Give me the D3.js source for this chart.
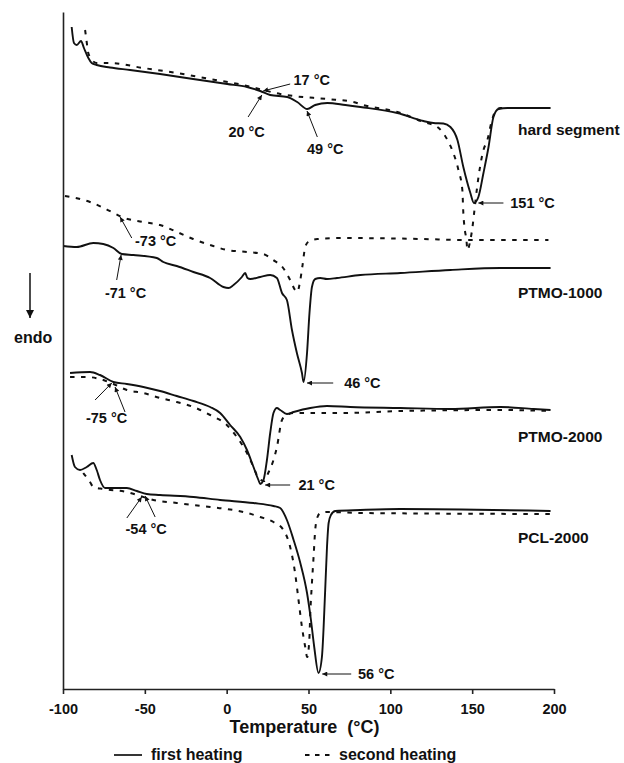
<!DOCTYPE html>
<html>
<head>
<meta charset="utf-8">
<script src="https://cdn.jsdelivr.net/npm/d3@7"></script>
<style>
  body { margin: 0; background: #fff; }
  svg { display: block; font-family: "Liberation Sans", Arial, sans-serif; font-weight: bold; }
</style>
</head>
<body>
<div id="wrapper"></div>
<script>
// Data: [temperature (°C), heat flow (a.u.)]
const xTicks = [-100, -50, 0, 50, 100, 150, 200];

const seriesNames = ["hard segment", "PTMO-1000", "PTMO-2000", "PCL-2000"];
const seriesLabelV = [559, 396, 252, 151];
const seriesLabelT = 178;

const hardFirst = [[-94.7,662],[-93.3,646],[-91.6,644],[-89.0,648],[-87.2,641],[-84.5,631],[-82.5,626],[-79.4,624],[-71.3,621.5],[-59,619],[-40.7,615],[-20.5,610],[0.3,605],[12.5,602],[20.5,598],[26.6,594],[37,592],[43.1,587],[49.2,580],[54.1,584],[61.5,586],[72.5,584],[81.7,582],[104.3,576],[120.2,568],[126.3,566],[132.4,565.5],[136.7,562],[141,549],[144.6,522],[148.9,496],[151.1,486],[153.8,492],[156.9,516],[160,542],[163,572],[166.1,580],[171.6,581],[197.9,581]];
const hardSecond = [[-86.5,659],[-85.6,648],[-84.7,637],[-83.5,632],[-79.4,626],[-71.3,626],[-51.1,621],[-30.3,616],[-10.1,610],[4.0,606],[12.5,603],[22.3,599],[32.7,595],[40.7,593],[61.5,590],[77.4,587],[83.5,584],[104.3,577],[120.2,567],[128.7,562],[134.9,549],[138.5,536],[141.6,519],[144.0,499],[144.6,476],[145.3,462],[146.5,449],[147.1,439],[148.9,449],[150.2,462],[151.4,479],[153.2,504],[155.0,524],[156.9,539],[159.3,549],[161.8,567],[164.2,578],[167.3,581],[197.9,581]];
const ptmo1000First = [[-99.8,443],[-91.6,442],[-81.5,446],[-75.4,445],[-69.2,441],[-64.1,435],[-57.0,434],[-42.7,431],[-38.7,427],[-30.5,423],[-20.3,417],[-10.1,411],[-2.0,402],[1.1,401],[4.2,404],[9.3,412],[11.3,416],[12.7,411],[14.4,410],[20.5,412],[26.6,414],[30.7,411],[33.8,396],[36.8,389],[39.9,359],[42.9,336],[46.0,316],[47.0,307],[49.1,336],[50.6,376],[52.1,402],[54.1,410],[57.2,411],[61.3,410],[67.4,411],[81.7,414],[106.1,416],[136.7,419],[167.3,421],[197.9,421]];
const ptmo1000Second = [[-98.8,493],[-83.5,487],[-70.2,477],[-64.1,472],[-51.1,467],[-40.7,464],[-30.3,457],[-20.5,450],[-10.1,444],[0.3,439],[12.5,437],[22.3,435],[28.4,429],[34.5,421],[38.8,409],[41.8,399],[43.1,397],[45.0,409],[46.2,422],[48.0,442],[49.8,447],[55.4,450],[71.3,451],[120,450],[145,449],[196.6,449]];
const ptmo2000First = [[-95.7,316],[-83.5,317],[-77.4,314],[-69.2,307],[-61.0,305],[-50.9,302],[-40.7,298],[-30.5,293],[-20.3,288],[-10.1,282],[-4.0,276],[2.1,264],[8.3,252],[12.4,239],[16.4,222],[19.4,209],[20.5,205],[22.5,209],[24.6,229],[26.6,256],[28.6,276],[30.7,281],[32.7,279],[36.8,275],[40.9,277],[51.1,281],[61.3,283],[75.5,282],[106.1,281],[136.7,280],[167.3,282],[187.5,280],[197.9,279]];
const ptmo2000Second = [[-95.7,312],[-85.5,312],[-77.4,310],[-69.2,305],[-61.0,299],[-50.9,296],[-40.7,291],[-30.5,287],[-20.3,282],[-10.1,274],[0.1,264],[6.2,252],[12.4,236],[16.4,222],[19.4,211],[22.9,208],[25.4,216],[28.6,229],[30.7,242],[33.8,269],[36.8,274],[40.9,276],[51.1,276],[71.4,276],[106.1,278],[167.3,279],[197.9,278]];
const pclFirst = [[-94.7,234],[-92.7,222],[-89.6,219],[-85.5,222],[-81.5,226],[-79.4,219],[-77.4,209],[-74.3,201],[-61.0,201],[-54.9,198],[-48.8,195],[-40.7,194],[-20.3,192],[-4.0,189],[16.4,186],[28.6,183],[32.7,181],[36.8,169],[40.9,149],[45.0,126],[49.1,96],[51.5,69],[53.5,42],[56.1,16],[58.2,32],[60.2,99],[61.3,142],[62.3,166],[63.7,174],[66.4,178],[81.7,179],[106.1,180],[197.9,178]];
const pclSecond = [[-87.6,216],[-83.5,207],[-81.5,202],[-75.4,200],[-61.0,197],[-52.9,193],[-44.8,189],[-30.5,186],[-10.1,182],[10.3,177],[20.5,172],[28.6,167],[34.7,159],[38.8,142],[41.8,116],[43.9,89],[46.0,62],[48.0,42],[49.2,32],[50.5,49],[51.1,76],[52.1,106],[53.1,132],[54.1,159],[55.5,172],[57.2,176],[61.3,177],[81.7,176],[197.9,175]];

// Peak / transition annotations
const noteText = ["17 °C", "20 °C", "49 °C", "151 °C", "-73 °C", "-71 °C", "46 °C", "-75 °C", "21 °C", "-54 °C", "56 °C"];
const noteT = [52.0, 12.2, 60.2, 186.9, -43.4, -61.8, 82.9, -73.4, 55.0, -49.2, 91.4];
const noteV = [609, 557, 540, 486, 448, 396, 306, 271, 204, 160, 15];
const arrowTail = [[38.8,605],[13.1,572],[55.4,552],[169.1,486],[-58,451],[-67.2,409],[65.1,306],[-80.4,289],[-62.1,277],[38.8,204],[-61.0,171],[-43.7,172],[76.1,15]];
const arrowTip = [[22.3,598],[21.5,594],[49.1,578],[153.8,486],[-65.1,472],[-64.5,434],[49.1,306],[-70.2,306],[-68.2,302],[23.5,204],[-51.9,192],[-49.8,193],[58.4,15]];

function drawChart() {
  // Mitoitus
  let dimensions = {
    width: 624,
    height: 763,
    margins: { top: 12, right: 70, bottom: 74, left: 63 },
  };
  dimensions.boundedWidth =
    dimensions.width - dimensions.margins.left - dimensions.margins.right;
  dimensions.boundedHeight =
    dimensions.height - dimensions.margins.top - dimensions.margins.bottom;

  const wrapper = d3
    .select("#wrapper")
    .append("svg")
    .attr("width", dimensions.width)
    .attr("height", dimensions.height);

  const defs = wrapper.append("defs");
  defs
    .append("marker")
    .attr("id", "head")
    .attr("viewBox", "0 0 10 10")
    .attr("refX", 10)
    .attr("refY", 5)
    .attr("markerUnits", "userSpaceOnUse")
    .attr("markerWidth", 8)
    .attr("markerHeight", 5)
    .attr("orient", "auto")
    .append("path")
    .attr("d", "M0,0 L10,5 L0,10 Z")
    .attr("fill", "#111");
  defs
    .append("marker")
    .attr("id", "bighead")
    .attr("viewBox", "0 0 10 10")
    .attr("refX", 10)
    .attr("refY", 5)
    .attr("markerUnits", "userSpaceOnUse")
    .attr("markerWidth", 12)
    .attr("markerHeight", 8)
    .attr("orient", "auto")
    .append("path")
    .attr("d", "M0,0 L10,5 L0,10 Z")
    .attr("fill", "#111");

  const boundingBox = wrapper
    .append("g")
    .attr(
      "transform",
      `translate(${dimensions.margins.left}, ${dimensions.margins.top})`
    );

  // Skaalaimet
  const xScale = d3
    .scaleLinear()
    .domain([-100, 200])
    .range([0, dimensions.boundedWidth]);

  const yScale = d3
    .scaleLinear()
    .domain([0, dimensions.boundedHeight])
    .range([dimensions.boundedHeight, 0]);

  // Käyrät
  const lineGenerator = d3
    .line()
    .x((d) => xScale(d[0]))
    .y((d) => yScale(d[1]))
    .curve(d3.curveMonotoneX);

  const curves = [
    { values: hardSecond, dashed: true },
    { values: hardFirst, dashed: false },
    { values: ptmo1000Second, dashed: true },
    { values: ptmo1000First, dashed: false },
    { values: ptmo2000Second, dashed: true },
    { values: ptmo2000First, dashed: false },
    { values: pclSecond, dashed: true },
    { values: pclFirst, dashed: false },
  ];

  boundingBox
    .append("g")
    .selectAll("path")
    .data(curves)
    .enter()
    .append("path")
    .attr("d", (d) => lineGenerator(d.values))
    .attr("fill", "none")
    .attr("stroke", "#111")
    .attr("stroke-width", (d) => (d.dashed ? 2 : 1.9))
    .attr("stroke-dasharray", (d) => (d.dashed ? "4.5 6.5" : null))
    .attr("stroke-linejoin", "round");

  // Sarjojen nimet
  boundingBox
    .append("g")
    .selectAll("text")
    .data(seriesNames)
    .enter()
    .append("text")
    .attr("x", xScale(seriesLabelT))
    .attr("y", (d, i) => yScale(seriesLabelV[i]))
    .attr("dy", "0.35em")
    .style("font-size", "15.5px")
    .attr("fill", "#111")
    .text((d) => d);

  // Merkinnät
  boundingBox
    .append("g")
    .selectAll("line")
    .data(arrowTip)
    .enter()
    .append("line")
    .attr("x1", (d, i) => xScale(arrowTail[i][0]))
    .attr("y1", (d, i) => yScale(arrowTail[i][1]))
    .attr("x2", (d) => xScale(d[0]))
    .attr("y2", (d) => yScale(d[1]))
    .attr("stroke", "#111")
    .attr("stroke-width", 1)
    .attr("marker-end", "url(#head)");

  boundingBox
    .append("g")
    .selectAll("text")
    .data(noteText)
    .enter()
    .append("text")
    .attr("x", (d, i) => xScale(noteT[i]))
    .attr("y", (d, i) => yScale(noteV[i]))
    .attr("dy", "0.35em")
    .attr("text-anchor", "middle")
    .attr("fill", "#111")
    .style("font-size", "14.5px")
    .text((d) => d);

  // Akselit
  const xAxisGenerator = d3
    .axisBottom(xScale)
    .tickValues(xTicks)
    .tickSize(5)
    .tickSizeOuter(0)
    .tickPadding(10)
    .tickFormat((d) => String(d));

  const xAxis = boundingBox
    .append("g")
    .attr("transform", `translate(0, ${dimensions.boundedHeight})`)
    .call(xAxisGenerator);

  xAxis.select(".domain").attr("stroke", "#222").attr("stroke-width", 1.6);
  xAxis.selectAll(".tick line").attr("stroke", "#222").attr("stroke-width", 1.6);
  xAxis
    .selectAll(".tick text")
    .attr("fill", "#111")
    .style("font-size", "14.5px")
    .style("font-family", '"Liberation Sans", Arial, sans-serif')
    .style("font-weight", "bold");

  xAxis
    .append("text")
    .attr("x", dimensions.boundedWidth / 2 - 4)
    .attr("y", 44)
    .attr("fill", "#111")
    .attr("text-anchor", "middle")
    .style("font-size", "18px")
    .style("font-family", '"Liberation Sans", Arial, sans-serif')
    .style("font-weight", "bold")
    .style("white-space", "pre")
    .text("Temperature  (°C)");

  const yAxisGenerator = d3.axisLeft(yScale).tickValues([]).tickSizeOuter(0);
  const yAxis = boundingBox.append("g").call(yAxisGenerator);
  yAxis.select(".domain").attr("stroke", "#222").attr("stroke-width", 1.6);

  // endo
  wrapper
    .append("text")
    .attr("x", 14)
    .attr("y", 343)
    .attr("fill", "#111")
    .style("font-size", "16px")
    .text("endo");
  wrapper
    .append("line")
    .attr("x1", 30)
    .attr("y1", 273)
    .attr("x2", 30)
    .attr("y2", 318)
    .attr("stroke", "#111")
    .attr("stroke-width", 1.5)
    .attr("marker-end", "url(#bighead)");

  // Selite
  const legendItems = [
    { label: "first heating", dashed: false, x: 114 },
    { label: "second heating", dashed: true, x: 305 },
  ];
  const legend = wrapper
    .append("g")
    .selectAll("g")
    .data(legendItems)
    .enter()
    .append("g")
    .attr("transform", (d) => `translate(${d.x}, 755)`);
  legend
    .append("line")
    .attr("x1", 0)
    .attr("x2", (d) => (d.dashed ? 25 : 28))
    .attr("stroke", "#111")
    .attr("stroke-width", (d) => (d.dashed ? 2 : 1.7))
    .attr("stroke-dasharray", (d) => (d.dashed ? "4.5 5.5" : null));
  legend
    .append("text")
    .attr("x", (d) => (d.dashed ? 34 : 37))
    .attr("y", 5)
    .attr("fill", "#111")
    .style("font-size", "16px")
    .text((d) => d.label);
}

drawChart();
</script>
</body>
</html>
